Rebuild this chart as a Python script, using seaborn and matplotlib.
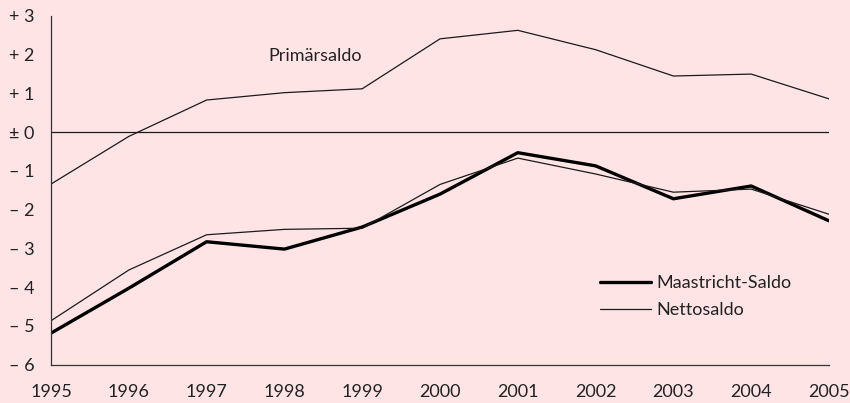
import matplotlib
matplotlib.use('Agg')
import pandas as pd
import matplotlib.pyplot as plt
import seaborn as sns
from matplotlib.lines import Line2D

# Werte (in % des BIP)
jahre = [1995, 1996, 1997, 1998, 1999, 2000, 2001, 2002, 2003, 2004, 2005]
primaersaldo = [-1.34, -0.11, 0.83, 1.02, 1.12, 2.41, 2.63, 2.13, 1.45, 1.50, 0.86]
maastricht_saldo = [-5.19, -4.03, -2.83, -3.02, -2.45, -1.60, -0.53, -0.87, -1.72, -1.39, -2.29]
nettosaldo = [-4.87, -3.56, -2.65, -2.51, -2.48, -1.35, -0.67, -1.08, -1.55, -1.47, -2.12]

y_ticks = [3, 2, 1, 0, -1, -2, -3, -4, -5, -6]
y_labels = ['+ 3', '+ 2', '+ 1', '± 0', '– 1', '– 2', '– 3', '– 4', '– 5', '– 6']

bg = '#FFE4E6'
sns.set_theme(style='white')
plt.rcParams['font.family'] = ['Lato', 'DejaVu Sans']
fs = 13

df = pd.DataFrame({
    'Jahr': jahre * 3,
    'Wert': primaersaldo + maastricht_saldo + nettosaldo,
    'Reihe': ['Primärsaldo'] * 11 + ['Maastricht-Saldo'] * 11 + ['Nettosaldo'] * 11,
})

fig = plt.figure(figsize=(8.5, 4.03), dpi=100, facecolor=bg)
ax = fig.add_axes([51 / 850, 1 - 364.5 / 403, 778 / 850, 348.5 / 403])
ax.set_facecolor(bg)

sns.lineplot(data=df, x='Jahr', y='Wert', hue='Reihe', size='Reihe',
             palette={'Primärsaldo': '#1a1a1a', 'Maastricht-Saldo': '#000000', 'Nettosaldo': '#1a1a1a'},
             sizes={'Primärsaldo': 0.9, 'Maastricht-Saldo': 2.4, 'Nettosaldo': 0.9},
             ax=ax, legend=False)

ax.axhline(0, color='#1a1a1a', lw=0.9)

ax.set_xlim(1995, 2005)
ax.set_ylim(-6, 3)
ax.set_xticks(jahre)
ax.set_xticklabels([str(j) for j in jahre], fontsize=fs, color='#222222')
ax.set_yticks(y_ticks)
ax.set_yticklabels(y_labels, fontsize=fs, color='#222222')
ax.set_xlabel('')
ax.set_ylabel('')

for s in ['top', 'right']:
    ax.spines[s].set_visible(False)
for s in ['left', 'bottom']:
    ax.spines[s].set_color('#333333')
    ax.spines[s].set_linewidth(0.9)

ax.tick_params(axis='y', direction='out', length=5, width=0.9, color='#333333', pad=7)
ax.tick_params(axis='x', direction='in', length=5, width=0.9, color='#333333', pad=14)

ax.text(1998.4, 1.97, 'Primärsaldo', fontsize=fs, color='#222222', ha='center', va='center')

# Legende
handles = [Line2D([], [], color='#000000', lw=2.4), Line2D([], [], color='#1a1a1a', lw=0.9)]
leg = ax.legend(handles, ['Maastricht-Saldo', 'Nettosaldo'], loc='upper left',
                bbox_to_anchor=(0.706, 0.256), frameon=False, fontsize=fs,
                handlelength=2.8, handletextpad=0.3, labelspacing=0.62,
                borderaxespad=0, borderpad=0)
for t in leg.get_texts():
    t.set_color('#222222')

fig.savefig('out.png', dpi=100, facecolor=bg)
